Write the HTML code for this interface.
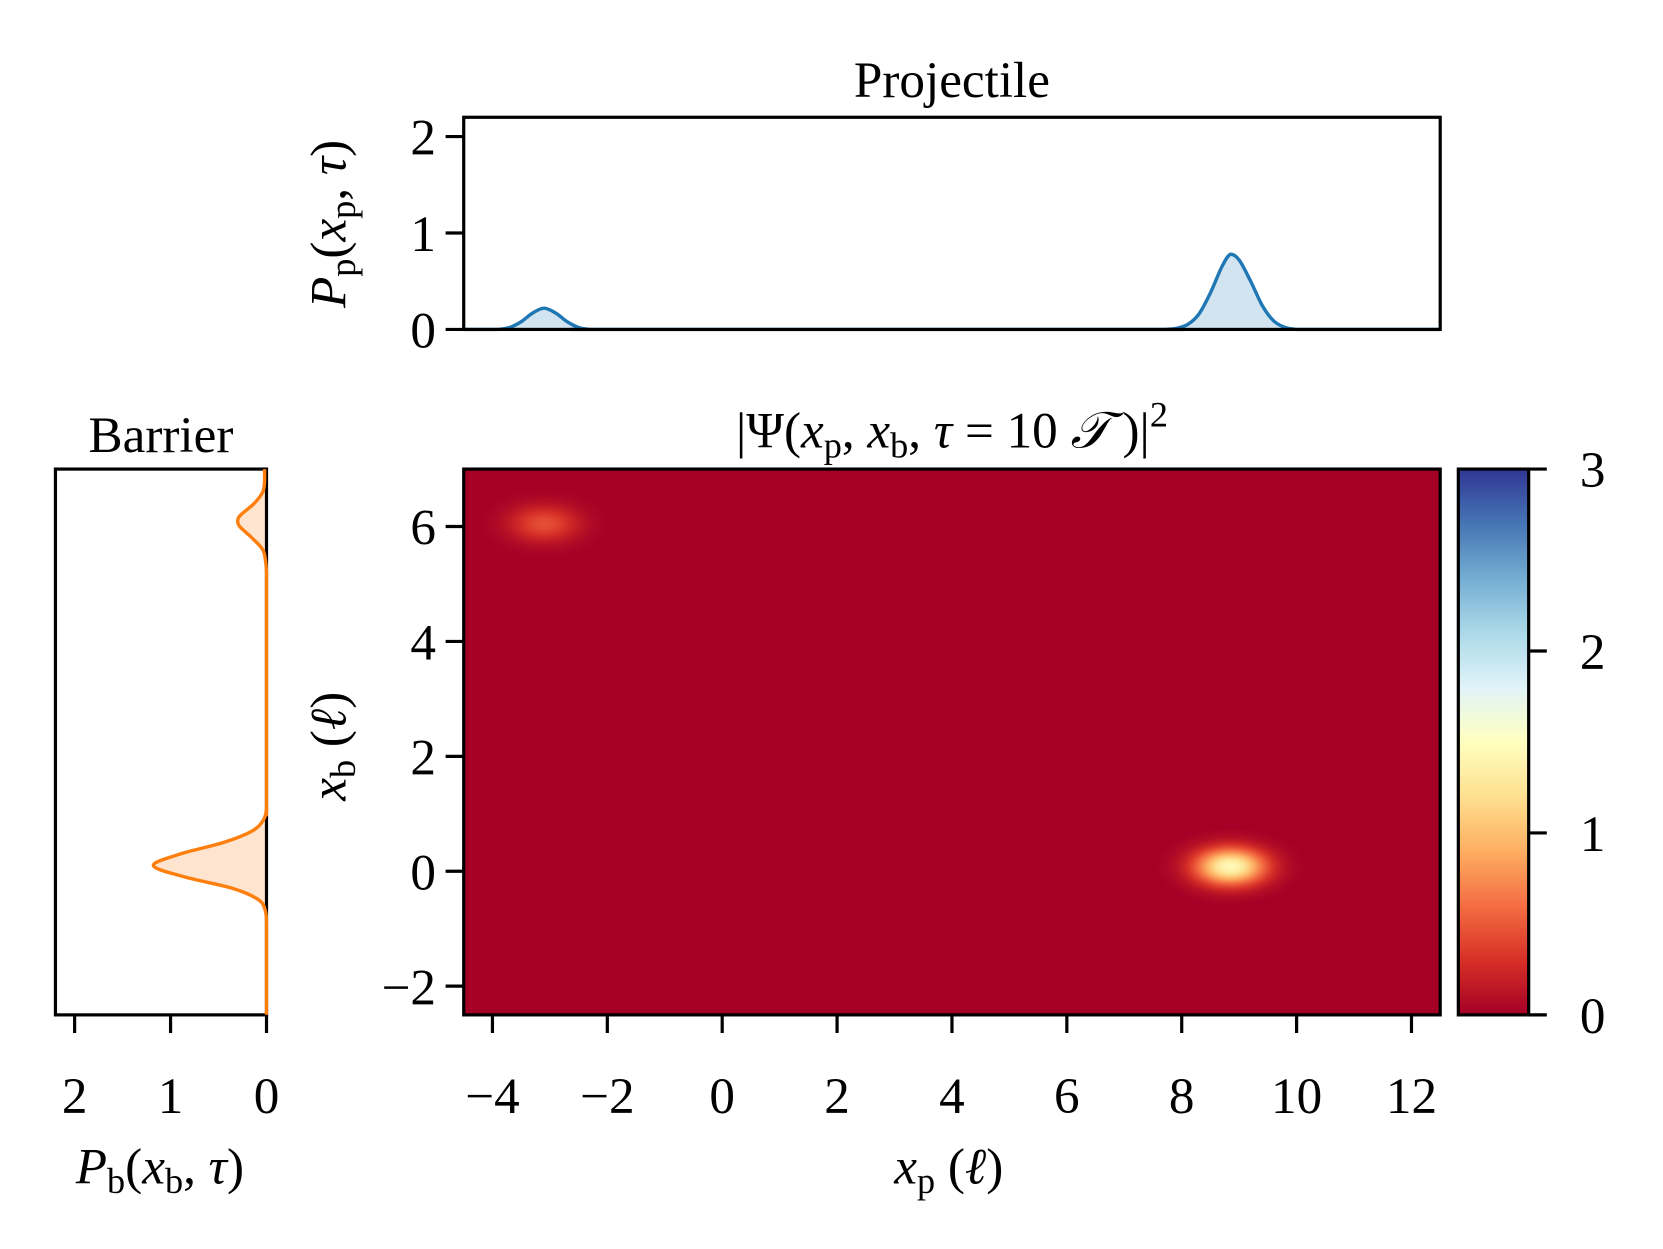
<!DOCTYPE html>
<html><head><meta charset="utf-8"><style>
html,body{margin:0;padding:0;background:#fff}
svg{display:block}
text{font-family:"Liberation Serif",serif;fill:#000}
</style></head><body>
<svg id="fig" width="1663" height="1249" viewBox="0 0 1560 1171.6" xmlns="http://www.w3.org/2000/svg">
<defs id="defs"></defs>
<g id="layer"></g>
</svg>
<script>
// ---------- data ----------
const projX = [-4.5,-4.3,-4.1,-3.9,-3.7,-3.5,-3.3,-3.1,-2.9,-2.7,-2.5,-2.3,-2.1,-1.9,7.3,7.5,7.7,7.9,8.1,8.3,8.5,8.7,8.85,9.0,9.2,9.4,9.6,9.8,10.0,10.2,10.4,12.5];
const projP = [0,0,0,0,0.02,0.08,0.17,0.22,0.17,0.08,0.02,0,0,0,0,0,0,0.01,0.05,0.16,0.38,0.65,0.78,0.72,0.5,0.25,0.09,0.02,0,0,0,0];
const barX = [-2.5,-1.3,-1.1,-0.9,-0.7,-0.5,-0.3,-0.1,0.1,0.3,0.5,0.7,0.9,1.1,1.3,4.8,5.0,5.2,5.4,5.6,5.8,6.0,6.1,6.2,6.4,6.6,6.8,7.0];
const barP = [0,0,0,0,0.01,0.08,0.35,0.85,1.18,0.9,0.45,0.15,0.03,0,0,0,0,0,0.01,0.04,0.15,0.28,0.3,0.27,0.13,0.04,0.02,0.02];
const blobXp = [-3.1, 8.85];
const blobXb = [6.05, 0.08];
const blobPeak = [0.45, 1.45];
const blobSx = [0.42, 0.42];
const blobSy = [0.22, 0.22];
const xTicks = [-4,-2,0,2,4,6,8,10,12];
const yTicks = [-2,0,2,4,6];
const projTicks = [0,1,2];
const barTicks = [2,1,0];
const cbTicks = [0,1,2,3];

// ---------- layout ----------
const NS="http://www.w3.org/2000/svg";
const L=document.getElementById('layer'), D=document.getElementById('defs');
function el(tag,attrs,parent){const e=document.createElementNS(NS,tag);for(const k in attrs)e.setAttribute(k,attrs[k]);(parent||L).appendChild(e);return e;}
const mainAx={x0:435,x1:1351,y0:440,y1:952};
const topAx={x0:435,x1:1351,y0:110,y1:309};
const barAx={x0:52,x1:250,y0:440,y1:952};
const cbAx={x0:1368,x1:1434,y0:440,y1:952};
const xS=v=>mainAx.x0+(v+4.5)/17*(mainAx.x1-mainAx.x0);
const yS=v=>mainAx.y1-(v+2.5)/9.5*(mainAx.y1-mainAx.y0);
const pS=v=>topAx.y1-v/2.2*(topAx.y1-topAx.y0);
const bS=v=>barAx.x1-v/2.2*(barAx.x1-barAx.x0);
const cS=v=>cbAx.y1-v/3*(cbAx.y1-cbAx.y0);
const FS=48, SW=3;

function clampC(v,a,b){return Math.min(Math.max(v,Math.min(a,b)),Math.max(a,b));}
function smooth(P,vi){ // catmull-rom, value coordinate (index vi) clamped between endpoints
  let d=`M${P[0][0].toFixed(1)},${P[0][1].toFixed(1)}`;
  for(let i=0;i<P.length-1;i++){
    const p0=P[Math.max(0,i-1)],p1=P[i],p2=P[i+1],p3=P[Math.min(P.length-1,i+2)];
    const c1=[p1[0]+(p2[0]-p0[0])/6,p1[1]+(p2[1]-p0[1])/6];
    const c2=[p2[0]-(p3[0]-p1[0])/6,p2[1]-(p3[1]-p1[1])/6];
    c1[vi]=clampC(c1[vi],p1[vi],p2[vi]); c2[vi]=clampC(c2[vi],p1[vi],p2[vi]);
    d+=` C${c1[0].toFixed(1)},${c1[1].toFixed(1)} ${c2[0].toFixed(1)},${c2[1].toFixed(1)} ${p2[0].toFixed(1)},${p2[1].toFixed(1)}`;
  }
  return d;
}

const cmap=[[165,0,38],[215,48,39],[244,109,67],[253,174,97],[254,224,144],[255,255,191],[224,243,248],[171,217,233],[116,173,209],[69,117,180],[49,54,149]];
function col(t){t=Math.max(0,Math.min(1,t))*10;const i=Math.min(9,Math.floor(t)),f=t-i;const a=cmap[i],b=cmap[i+1];return `rgb(${a.map((c,k)=>Math.round(c+(b[k]-c)*f)).join(',')})`;}

// ---------- heatmap ----------
let r=el('rect',{x:mainAx.x0,y:mainAx.y0,width:mainAx.x1-mainAx.x0,height:mainAx.y1-mainAx.y0,fill:col(0)});


for(let i=0;i<blobXp.length;i++){
  const g=el('radialGradient',{id:'bg'+i},D);
  for(let s=0;s<=20;s++){const t=s/20;const v=blobPeak[i]*Math.exp(-Math.pow(t*3,2)/2);el('stop',{offset:t,'stop-color':col(v/3)},g);}
  const e=el('ellipse',{cx:xS(blobXp[i]),cy:yS(blobXb[i]),rx:(xS(blobSx[i]*3)-xS(0)),ry:(yS(0)-yS(blobSy[i]*3)),fill:`url(#bg${i})`});
  
  
}
r=el('rect',{x:mainAx.x0,y:mainAx.y0,width:mainAx.x1-mainAx.x0,height:mainAx.y1-mainAx.y0,fill:'none',stroke:'#000','stroke-width':SW});



// ---------- colorbar ----------
const cg=el('linearGradient',{id:'cbg',x1:0,y1:1,x2:0,y2:0},D);
for(let s=0;s<=10;s++)el('stop',{offset:s/10,'stop-color':col(s/10)},cg);
r=el('rect',{x:cbAx.x0,y:cbAx.y0,width:cbAx.x1-cbAx.x0,height:cbAx.y1-cbAx.y0,fill:'url(#cbg)',stroke:'#000','stroke-width':SW});


cbTicks.forEach(v=>{const y=cS(v);el('line',{x1:cbAx.x1,x2:cbAx.x1+17,y1:y,y2:y,stroke:'#000','stroke-width':SW});
 const t=el('text',{x:cbAx.x1+48,y:y+17,'font-size':FS});t.textContent=v;
 
 });

// main ticks
xTicks.forEach(v=>{const x=xS(v);el('line',{x1:x,x2:x,y1:mainAx.y1,y2:mainAx.y1+17,stroke:'#000','stroke-width':SW});
 const t=el('text',{x:x,y:1044,'font-size':FS,'text-anchor':'middle'});t.textContent=(v<0?'\u2212':'')+Math.abs(v);
 
 });
yTicks.forEach(v=>{const y=yS(v);el('line',{x1:mainAx.x0-17,x2:mainAx.x0,y1:y,y2:y,stroke:'#000','stroke-width':SW});
 const t=el('text',{x:mainAx.x0-26,y:y+17,'font-size':FS,'text-anchor':'end'});t.textContent=(v<0?'\u2212':'')+Math.abs(v);
 
 });

// ---------- projectile ----------
let P=projX.map((x,i)=>[xS(x),pS(projP[i])]);
let d=smooth(P,1);
let p=el('path',{d:d+` L${xS(projX[projX.length-1])},${pS(0)} L${xS(projX[0])},${pS(0)} Z`,fill:'#1f77b4','fill-opacity':0.2,stroke:'none'});


p=el('path',{d:d,fill:'none',stroke:'#1f77b4','stroke-width':3.2,'stroke-linejoin':'round'});


r=el('rect',{x:topAx.x0,y:topAx.y0,width:topAx.x1-topAx.x0,height:topAx.y1-topAx.y0,fill:'none',stroke:'#000','stroke-width':SW});


projTicks.forEach(v=>{const y=pS(v);el('line',{x1:topAx.x0-17,x2:topAx.x0,y1:y,y2:y,stroke:'#000','stroke-width':SW});
 const t=el('text',{x:topAx.x0-26,y:y+17,'font-size':FS,'text-anchor':'end'});t.textContent=v;
 
 });

// ---------- barrier ----------
P=barX.map((x,i)=>[bS(barP[i]),yS(x)]);
d=smooth(P,0);
p=el('path',{d:d+` L${bS(0)},${yS(barX[barX.length-1])} L${bS(0)},${yS(barX[0])} Z`,fill:'#ff7f0e','fill-opacity':0.2,stroke:'none'});


r=el('rect',{x:barAx.x0,y:barAx.y0,width:barAx.x1-barAx.x0,height:barAx.y1-barAx.y0,fill:'none',stroke:'#000','stroke-width':SW});


p=el('path',{d:d,fill:'none',stroke:'#ff7f0e','stroke-width':3.2,'stroke-linejoin':'round'});


barTicks.forEach(v=>{const x=bS(v);el('line',{x1:x,x2:x,y1:barAx.y1,y2:barAx.y1+17,stroke:'#000','stroke-width':SW});
 const t=el('text',{x:x,y:1044,'font-size':FS,'text-anchor':'middle'});t.textContent=v;
 
 });
</script>
<svg style="position:absolute;left:0;top:0" width="1663" height="1249" viewBox="0 0 1560 1171.6" xmlns="http://www.w3.org/2000/svg">
<text x="893" y="91" font-size="48" text-anchor="middle">Projectile</text>
<text x="151" y="424" font-size="48" text-anchor="middle">Barrier</text>
<text x="893" y="420" font-size="48" text-anchor="middle">|Ψ(<tspan font-style="italic">x</tspan><tspan font-size="34" dy="9">p</tspan><tspan dy="-9">, </tspan><tspan font-style="italic">x</tspan><tspan font-size="34" dy="9">b</tspan><tspan dy="-9">, </tspan><tspan font-style="italic">τ</tspan> = 10 <tspan font-style="italic">𝒯</tspan> )|<tspan font-size="34" dy="-20">2</tspan></text>
<text x="890" y="1110" font-size="48" text-anchor="middle"><tspan font-style="italic">x</tspan><tspan font-size="34" dy="9">p</tspan><tspan dy="-9"> (</tspan><tspan font-style="italic">ℓ</tspan>)</text>
<text x="150" y="1110" font-size="48" text-anchor="middle"><tspan font-style="italic">P</tspan><tspan font-size="34" dy="9">b</tspan><tspan dy="-9">(</tspan><tspan font-style="italic">x</tspan><tspan font-size="34" dy="9">b</tspan><tspan dy="-9">, </tspan><tspan font-style="italic">τ</tspan>)</text>
<text transform="translate(324,700) rotate(-90)" font-size="48" text-anchor="middle"><tspan font-style="italic">x</tspan><tspan font-size="34" dy="9">b</tspan><tspan dy="-9"> (</tspan><tspan font-style="italic">ℓ</tspan>)</text>
<text transform="translate(324,210) rotate(-90)" font-size="48" text-anchor="middle"><tspan font-style="italic">P</tspan><tspan font-size="34" dy="9">p</tspan><tspan dy="-9">(</tspan><tspan font-style="italic">x</tspan><tspan font-size="34" dy="9">p</tspan><tspan dy="-9">, </tspan><tspan font-style="italic">τ</tspan>)</text>
</svg>
</body></html>
